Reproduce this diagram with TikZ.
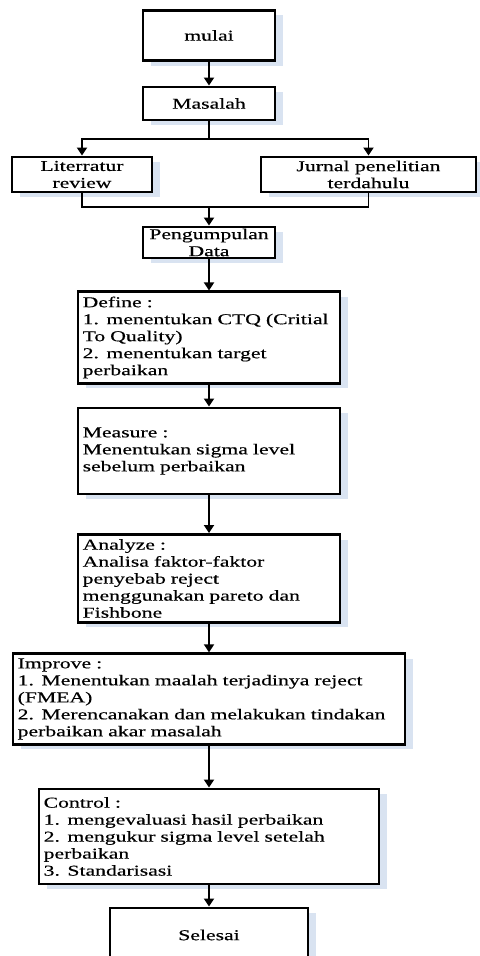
\documentclass[tikz,border=0pt]{standalone}
\usepackage{fontspec}
\setmainfont{Liberation Serif}[FakeStretch=1.44, FakeBold=0.4]
\usepackage{tikz}
\usetikzlibrary{arrows.meta, positioning, shadows}
\definecolor{bayang}{HTML}{D9E3F1}

\begin{document}
\begin{tikzpicture}[x=0.75pt, y=-0.75pt,
        kotak/.style={draw, line width=2.2pt, fill=white, inner sep=3.5pt,
            font=\fontsize{11.3}{12.75}\selectfont,
            drop shadow={shadow xshift=6pt, shadow yshift=-3.75pt, fill=bayang, opacity=1}},
        tengah/.style={kotak, align=center, inner sep=1pt},
        kiri/.style={kotak, align=left, text width=#1},
        garis/.style={line width=1.4pt},
        panah/.style={garis, -{Triangle[length=6pt, width=7.5pt]}}]
        \useasboundingbox (0,0) rectangle (479,956); % ukuran gambar

        % Awal
        \node[kotak, minimum width=99pt, minimum height=38pt] (mulai) at (209,35.5) {mulai};
        \node[kotak, minimum width=99pt, minimum height=24.75pt] (masalah) at (209,103.5) {Masalah};
        \node[tengah, minimum width=105pt, minimum height=26.25pt] (literatur) at (82,174.5) {Literratur\\review};
        \node[tengah, minimum width=161.25pt, minimum height=26.25pt] (jurnal) at (368.5,174.5) {Jurnal penelitian\\terdahulu};
        \node[tengah, inner sep=0.5pt, minimum width=99pt, minimum height=23.25pt] (data) at (209,242.5) {Pengumpulan\\Data};

        % DMAIC
        \node[kiri=189.5pt, minimum height=63.75pt] (define) at (209,337.5) {Define :\\1. menentukan CTQ (Critial\\To Quality)\\2. menentukan target\\perbaikan};
        \node[kiri=189.5pt, minimum height=64.5pt] (measure) at (209,451) {Measure :\\Menentukan sigma level\\sebelum perbaikan};
        \node[kiri=189.5pt, minimum height=63.75pt] (analyze) at (209,578.5) {Analyze :\\Analisa faktor-faktor\\penyebab reject\\menggunakan pareto dan\\Fishbone};
        \node[kiri=287pt, minimum height=64.5pt] (improve) at (209,699) {Improve :\\1. Menentukan maalah terjadinya reject\\(FMEA)\\2. Merencanakan dan melakukan tindakan\\perbaikan akar masalah};
        \node[kiri=248pt, minimum height=71.25pt] (control) at (209,836.5) {Control :\\1. mengevaluasi hasil perbaikan\\2. mengukur sigma level setelah\\perbaikan\\3. Standarisasi};
        \node[kotak, minimum width=148.5pt, minimum height=40.5pt] (selesai) at (209,935) {Selesai};

        % Panah
        \coordinate (cabang) at (209,139);
        \coordinate (gabung) at (209,207);
        \draw[panah] (mulai) -- (masalah);
        \draw[garis] (masalah) -- (cabang);
        \draw[panah] (cabang) -| (literatur);
        \draw[panah] (cabang) -| (jurnal);
        \draw[garis] (literatur) |- (gabung);
        \draw[garis] (jurnal) |- (gabung);
        \draw[panah] (gabung) -- (data);
        \draw[panah] (data) -- (define);
        \draw[panah] (define) -- (measure);
        \draw[panah] (measure) -- (analyze);
        \draw[panah] (analyze) -- (improve);
        \draw[panah] (improve) -- (control);
        \draw[panah] (control) -- (selesai);
    \end{tikzpicture}
\end{document}
